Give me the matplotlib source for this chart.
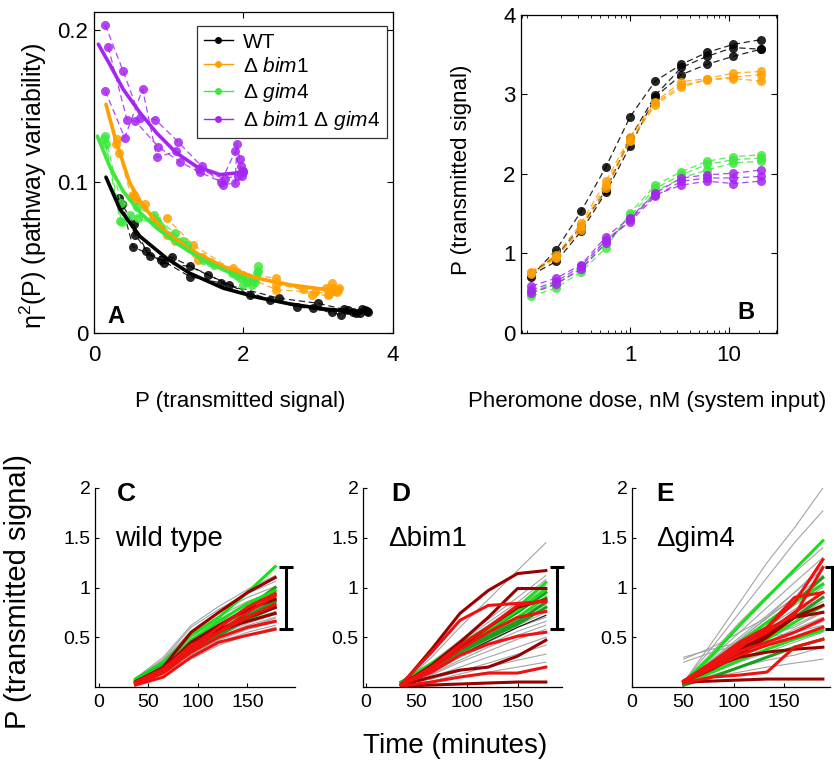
import numpy as np
import matplotlib.pyplot as plt
from matplotlib.lines import Line2D
from matplotlib.ticker import LogLocator, NullFormatter, FixedLocator, FixedFormatter

plt.rcParams['font.family'] = ['Liberation Sans', 'DejaVu Sans']
plt.rcParams['mathtext.fontset'] = 'custom'
plt.rcParams['mathtext.rm'] = 'Liberation Sans'
plt.rcParams['mathtext.it'] = 'Liberation Sans:italic'
plt.rcParams['axes.linewidth'] = 0.9

# ---- strains ----
strain_labels = ['WT', 'Δ $\\mathit{bim1}$', 'Δ $\\mathit{gim4}$',
                 'Δ $\\mathit{bim1}$ Δ $\\mathit{gim4}$']
strain_colors = ['#000000', '#ffa000', '#3ee83e', '#a625f0']

# ---- panel A: variability vs transmitted signal (3 replicates per strain) ----
A_P = [
    [[0.33, 0.53, 0.70, 0.93, 1.28, 1.80, 2.35, 2.93, 3.31, 3.47, 3.67],
     [0.35, 0.55, 0.75, 1.04, 1.53, 2.09, 2.71, 3.18, 3.40, 3.56, 3.62],
     [0.37, 0.52, 0.90, 1.28, 1.70, 2.47, 3.00, 3.34, 3.50, 3.58, 3.65]],
    [[0.31, 0.53, 0.79, 0.97, 1.33, 1.91, 2.44, 2.91, 3.13, 3.20, 3.25],
     [0.34, 0.55, 0.68, 0.97, 1.39, 1.86, 2.44, 2.80, 3.10, 3.18, 3.27],
     [0.30, 0.50, 0.82, 1.08, 1.45, 2.00, 2.44, 2.95, 3.15, 3.22, 3.28]],
    [[0.15, 0.36, 0.57, 0.80, 1.08, 1.46, 1.84, 2.04, 2.15, 2.20],
     [0.14, 0.35, 0.48, 0.84, 1.19, 1.55, 1.90, 1.99, 2.11, 2.18],
     [0.16, 0.37, 0.59, 0.90, 1.25, 1.60, 1.95, 2.05, 2.13, 2.19]],
    [[0.15, 0.39, 0.62, 0.82, 1.13, 1.44, 1.73, 1.89, 1.91, 1.95],
     [0.19, 0.44, 0.55, 0.86, 1.15, 1.42, 1.70, 1.89, 1.98, 2.00],
     [0.15, 0.41, 0.65, 0.84, 1.10, 1.40, 1.75, 1.92, 1.96, 1.99]],
]
A_eta = [
    [[0.089, 0.072, 0.054, 0.046, 0.044, 0.032, 0.022, 0.0163, 0.0119, 0.0141, 0.0141],
     [0.086, 0.065, 0.051, 0.050, 0.0384, 0.0252, 0.0174, 0.0141, 0.0150, 0.0130, 0.0150],
     [0.085, 0.057, 0.0483, 0.0373, 0.033, 0.023, 0.0196, 0.0157, 0.0135, 0.0157, 0.0145]],
    [[0.128, 0.091, 0.076, 0.076, 0.058, 0.040, 0.036, 0.025, 0.025, 0.030, 0.027],
     [0.119, 0.088, 0.085, 0.065, 0.048, 0.043, 0.032, 0.029, 0.030, 0.033, 0.0285],
     [0.125, 0.090, 0.074, 0.0605, 0.050, 0.038, 0.0285, 0.027, 0.026, 0.028, 0.030]],
    [[0.130, 0.086, 0.083, 0.078, 0.066, 0.048, 0.0395, 0.036, 0.034, 0.044],
     [0.128, 0.074, 0.078, 0.074, 0.0605, 0.047, 0.038, 0.032, 0.032, 0.0395],
     [0.125, 0.073, 0.076, 0.070, 0.058, 0.045, 0.036, 0.034, 0.035, 0.041]],
    [[0.2035, 0.173, 0.142, 0.141, 0.126, 0.110, 0.098, 0.099, 0.125, 0.115],
     [0.189, 0.141, 0.140, 0.123, 0.113, 0.106, 0.100, 0.120, 0.1035, 0.107],
     [0.160, 0.129, 0.161, 0.116, 0.120, 0.108, 0.102, 0.104, 0.110, 0.106]],
]
# smooth fitted trends
fit_P = [
    [0.16, 0.35, 0.615, 0.97, 1.28, 1.73, 2.18, 2.62, 3.07, 3.51, 3.65],
    [0.16, 0.30, 0.48, 0.66, 0.93, 1.28, 1.73, 2.18, 2.62, 3.07, 3.25],
    [0.045, 0.21, 0.39, 0.62, 0.84, 1.10, 1.42, 1.73, 2.04, 2.18],
    [0.058, 0.21, 0.39, 0.615, 0.84, 1.10, 1.37, 1.685, 1.91, 2.02],
]
fit_eta = [
    [0.1029, 0.0815, 0.0638, 0.0494, 0.0395, 0.0296, 0.0236, 0.0192, 0.0159, 0.0141, 0.0135],
    [0.151, 0.1256, 0.099, 0.0837, 0.0682, 0.055, 0.0439, 0.0362, 0.0318, 0.0289, 0.0285],
    [0.130, 0.110, 0.0936, 0.0793, 0.0693, 0.0594, 0.0494, 0.0417, 0.0355, 0.034],
    [0.1907, 0.1775, 0.161, 0.1455, 0.132, 0.119, 0.110, 0.1046, 0.1057, 0.108],
]

# ---- panel B: dose response ----
dose = [0.1, 0.18, 0.32, 0.57, 1.0, 1.8, 3.3, 6.0, 11, 21]
B_P = [
    [[0.71, 1.05, 1.53, 2.09, 2.72, 3.17, 3.38, 3.53, 3.63, 3.69],
     [0.75, 0.97, 1.34, 1.80, 2.45, 2.99, 3.34, 3.48, 3.59, 3.57],
     [0.73, 0.90, 1.28, 1.77, 2.35, 2.97, 3.25, 3.38, 3.48, 3.57]],
    [[0.77, 0.98, 1.38, 1.91, 2.47, 2.91, 3.16, 3.20, 3.27, 3.29],
     [0.75, 0.94, 1.34, 1.86, 2.43, 2.89, 3.12, 3.18, 3.22, 3.25],
     [0.74, 0.96, 1.30, 1.82, 2.41, 2.87, 3.09, 3.19, 3.20, 3.17]],
    [[0.46, 0.57, 0.77, 1.07, 1.51, 1.86, 2.03, 2.16, 2.22, 2.24],
     [0.50, 0.61, 0.82, 1.13, 1.47, 1.82, 1.99, 2.12, 2.18, 2.20],
     [0.52, 0.63, 0.80, 1.17, 1.42, 1.78, 1.95, 2.05, 2.14, 2.16]],
    [[0.59, 0.69, 0.86, 1.21, 1.45, 1.76, 1.95, 1.99, 2.01, 2.05],
     [0.54, 0.65, 0.84, 1.17, 1.40, 1.72, 1.91, 1.95, 1.95, 1.97],
     [0.50, 0.62, 0.80, 1.13, 1.43, 1.74, 1.86, 1.91, 1.88, 1.91]],
]

# ---- panels C-E: single-cell time courses ----
C_t = [37, 65, 93, 121, 150, 178]
C_grey = [
    [0.03, 0.15, 0.30, 0.45, 0.55, 0.62], [0.04, 0.16, 0.33, 0.48, 0.59, 0.67],
    [0.05, 0.17, 0.36, 0.50, 0.62, 0.70], [0.04, 0.18, 0.38, 0.52, 0.64, 0.73],
    [0.06, 0.19, 0.40, 0.55, 0.67, 0.76], [0.05, 0.20, 0.42, 0.57, 0.70, 0.79],
    [0.07, 0.21, 0.44, 0.60, 0.73, 0.82], [0.06, 0.22, 0.46, 0.62, 0.76, 0.85],
    [0.08, 0.23, 0.48, 0.65, 0.79, 0.88], [0.07, 0.24, 0.50, 0.68, 0.82, 0.92],
    [0.08, 0.25, 0.53, 0.71, 0.86, 0.96], [0.09, 0.27, 0.56, 0.75, 0.90, 1.01],
    [0.08, 0.28, 0.60, 0.78, 0.94, 1.06], [0.09, 0.30, 0.62, 0.81, 0.98, 1.12],
    [0.05, 0.14, 0.28, 0.42, 0.52, 0.60], [0.06, 0.20, 0.37, 0.53, 0.68, 0.80],
    [0.04, 0.17, 0.35, 0.49, 0.60, 0.69], [0.07, 0.22, 0.45, 0.63, 0.80, 0.95],
    [0.05, 0.18, 0.32, 0.47, 0.58, 0.65], [0.06, 0.21, 0.41, 0.58, 0.72, 0.84],
]
C_green = [
    [0.08, 0.25, 0.52, 0.70, 0.95, 1.21], [0.07, 0.22, 0.40, 0.60, 0.80, 1.00],
    [0.06, 0.20, 0.43, 0.62, 0.76, 0.90], [0.05, 0.18, 0.38, 0.55, 0.72, 0.86],
    [0.07, 0.21, 0.47, 0.66, 0.84, 0.97], [0.06, 0.19, 0.35, 0.52, 0.68, 0.80],
]
C_red = [
    [0.02, 0.10, 0.30, 0.45, 0.52, 0.58], [0.03, 0.14, 0.35, 0.50, 0.60, 0.66],
    [0.04, 0.16, 0.40, 0.60, 0.80, 0.94], [0.05, 0.18, 0.42, 0.55, 0.75, 0.92],
    [0.03, 0.15, 0.38, 0.55, 0.70, 0.83],
]
C_darkred = [
    [0.05, 0.20, 0.55, 0.75, 0.95, 1.10], [0.04, 0.18, 0.45, 0.62, 0.78, 0.88],
    [0.03, 0.17, 0.40, 0.58, 0.70, 0.80], [0.05, 0.19, 0.42, 0.57, 0.66, 0.74],
]

D_t = [35, 65, 93, 121, 150, 178]
D_grey = [
    [0.02, 0.30, 0.60, 0.88, 1.17, 1.45], [0.01, 0.05, 0.10, 0.15, 0.20, 0.25],
    [0.01, 0.06, 0.13, 0.20, 0.27, 0.33], [0.02, 0.10, 0.20, 0.30, 0.40, 0.50],
    [0.02, 0.12, 0.25, 0.36, 0.48, 0.58], [0.02, 0.15, 0.30, 0.43, 0.56, 0.66],
    [0.03, 0.18, 0.34, 0.50, 0.65, 0.80], [0.03, 0.20, 0.37, 0.53, 0.70, 0.86],
    [0.03, 0.21, 0.40, 0.57, 0.75, 0.93], [0.03, 0.22, 0.42, 0.60, 0.80, 1.00],
    [0.03, 0.24, 0.45, 0.65, 0.85, 1.08], [0.03, 0.25, 0.47, 0.68, 0.90, 1.12],
    [0.02, 0.17, 0.33, 0.48, 0.62, 0.75], [0.02, 0.13, 0.27, 0.40, 0.52, 0.62],
    [0.02, 0.08, 0.16, 0.24, 0.33, 0.42], [0.02, 0.14, 0.30, 0.45, 0.60, 0.70],
    [0.03, 0.19, 0.36, 0.52, 0.68, 0.83], [0.03, 0.23, 0.44, 0.62, 0.82, 1.02],
]
D_black = [[0.02, 0.16, 0.32, 0.46, 0.60, 0.72]]
D_green = [
    [0.05, 0.24, 0.43, 0.60, 0.80, 1.05], [0.05, 0.22, 0.40, 0.57, 0.75, 0.95],
    [0.04, 0.21, 0.38, 0.54, 0.70, 0.90], [0.04, 0.20, 0.36, 0.51, 0.66, 0.85],
    [0.05, 0.23, 0.41, 0.58, 0.77, 0.98], [0.04, 0.19, 0.35, 0.49, 0.63, 0.80],
]
D_red = [
    [0.03, 0.35, 0.67, 0.82, 0.84, 0.86], [0.02, 0.20, 0.42, 0.60, 0.82, 0.87],
    [0.02, 0.18, 0.38, 0.55, 0.70, 0.76], [0.02, 0.15, 0.32, 0.43, 0.51, 0.55],
    [0.01, 0.05, 0.10, 0.14, 0.14, 0.20],
]
D_darkred = [
    [0.02, 0.38, 0.74, 0.97, 1.14, 1.17], [0.02, 0.22, 0.45, 0.70, 0.99, 0.99],
    [0.02, 0.10, 0.17, 0.20, 0.31, 0.47], [0.01, 0.02, 0.03, 0.04, 0.05, 0.05],
    [0.02, 0.20, 0.40, 0.60, 0.80, 0.88],
]

E_t = [51, 79, 106, 133, 160, 188]
E_grey = [
    [0.05, 0.45, 0.85, 1.25, 1.60, 2.00], [0.05, 0.40, 0.75, 1.10, 1.45, 1.77],
    [0.05, 0.35, 0.65, 0.92, 1.15, 1.40], [0.28, 0.40, 0.55, 0.70, 0.90, 1.20],
    [0.30, 0.38, 0.45, 0.52, 0.60, 0.75], [0.25, 0.35, 0.43, 0.50, 0.55, 0.62],
    [0.04, 0.30, 0.55, 0.80, 1.05, 1.30], [0.04, 0.28, 0.50, 0.72, 0.95, 1.18],
    [0.04, 0.25, 0.46, 0.66, 0.86, 1.05], [0.04, 0.23, 0.42, 0.60, 0.78, 0.95],
    [0.04, 0.20, 0.38, 0.54, 0.70, 0.86], [0.04, 0.18, 0.34, 0.48, 0.62, 0.76],
    [0.04, 0.16, 0.30, 0.42, 0.54, 0.66], [0.04, 0.14, 0.25, 0.35, 0.45, 0.55],
    [0.04, 0.12, 0.20, 0.27, 0.32, 0.40], [0.04, 0.10, 0.15, 0.20, 0.24, 0.28],
    [0.04, 0.27, 0.48, 0.69, 0.90, 1.12], [0.05, 0.24, 0.44, 0.64, 0.82, 1.00],
    [0.05, 0.21, 0.40, 0.57, 0.74, 0.90], [0.05, 0.19, 0.36, 0.51, 0.66, 0.80],
    [0.05, 0.17, 0.32, 0.45, 0.58, 0.70], [0.05, 0.26, 0.47, 0.70, 0.95, 1.22],
]
E_green = [
    [0.05, 0.32, 0.62, 0.90, 1.18, 1.47], [0.04, 0.22, 0.40, 0.60, 0.85, 1.10],
    [0.03, 0.18, 0.33, 0.48, 0.65, 0.82], [0.05, 0.20, 0.37, 0.52, 0.70, 0.90],
    [0.03, 0.15, 0.27, 0.38, 0.48, 0.57], [0.02, 0.10, 0.20, 0.30, 0.40, 0.48],
    [0.04, 0.25, 0.45, 0.65, 0.85, 1.03],
]
E_red = [
    [0.06, 0.20, 0.40, 0.60, 0.85, 1.28], [0.06, 0.25, 0.45, 0.60, 0.90, 0.95],
    [0.05, 0.20, 0.40, 0.58, 0.72, 1.20], [0.04, 0.10, 0.12, 0.15, 0.40, 0.48],
    [0.06, 0.22, 0.36, 0.45, 0.55, 0.68], [0.05, 0.19, 0.32, 0.42, 0.50, 0.60],
    [0.06, 0.24, 0.42, 0.55, 0.75, 0.95],
]
E_darkred = [
    [0.05, 0.06, 0.07, 0.08, 0.08, 0.08], [0.06, 0.20, 0.30, 0.35, 0.38, 0.40],
    [0.05, 0.18, 0.33, 0.50, 0.70, 0.82], [0.05, 0.22, 0.38, 0.52, 0.70, 0.75],
]

# scale bar drawn next to each set of traces
bar_t = [189, 189, 197]
bar_lo = [0.585, 0.585, 0.585]
bar_hi = [1.207, 1.207, 1.207]

panel_names = ['wild type', 'Δbim1', 'Δgim4']
panel_letters = ['C', 'D', 'E']

W, H = 834, 763
fig = plt.figure(figsize=(W / 100, H / 100), dpi=100)


def add_box(left, top, right, bottom):
    return fig.add_axes([left / W, 1 - bottom / H, (right - left) / W, (bottom - top) / H])


def ftext(x, y, s, **kw):
    fig.text(x / W, 1 - y / H, s, **kw)


dash = (0, (5, 3))

# ---------------- A ----------------
axA = add_box(94, 12, 393, 333)
for k in range(4):
    for P, e in zip(A_P[k], A_eta[k]):
        axA.plot(P, e, linestyle=dash, lw=0.9, color=strain_colors[k],
                 marker='o', ms=6.5, mew=0, alpha=0.85)
for k in range(4):
    axA.plot(fit_P[k], fit_eta[k], color=strain_colors[k], lw=2.6,
             solid_capstyle='round')
axA.set_xlim(0, 4)
axA.set_ylim(0, 0.212)
axA.set_xticks([0, 2, 4])
axA.set_yticks([0, 0.1, 0.2])
axA.set_yticklabels(['0', '0.1', '0.2'])
axA.tick_params(direction='in', top=True, right=True, labelsize=16, length=4)
axA.tick_params(axis='x', pad=9)
axA.tick_params(axis='y', pad=4)
axA.text(0.045, 0.03, 'A', transform=axA.transAxes, fontsize=17, fontweight='bold')

handles = [Line2D([], [], color=c, lw=1.0, marker='o', ms=5, mew=0) for c in strain_colors]
leg = axA.legend(handles, strain_labels, loc='upper right', fontsize=15,
                 bbox_to_anchor=(1.0, 0.975), frameon=True, fancybox=False,
                 handlelength=1.4, handletextpad=0.5, labelspacing=0.25,
                 borderpad=0.3, borderaxespad=0.3)
leg.get_frame().set_edgecolor('black')
leg.get_frame().set_linewidth(0.9)

ftext(240, 401, 'P (transmitted signal)', fontsize=16, ha='center', va='center')
ftext(33, 186, 'η$^2$(P) (pathway variability)', fontsize=18, rotation=90,
      ha='center', va='center')

# ---------------- B ----------------
axB = add_box(521, 15, 777, 333)
for k in range(4):
    for P in B_P[k]:
        axB.plot(dose, P, linestyle=dash, lw=0.9, color=strain_colors[k],
                 marker='o', ms=6.5, mew=0, alpha=0.85)
axB.set_xscale('log')
axB.set_xlim(0.079, 30.5)
axB.set_ylim(0, 4)
axB.set_yticks([0, 1, 2, 3, 4])
axB.xaxis.set_major_locator(FixedLocator([1, 10]))
axB.xaxis.set_major_formatter(FixedFormatter(['1', '10']))
axB.xaxis.set_minor_locator(LogLocator(base=10, subs=np.arange(2, 10)))
axB.xaxis.set_minor_formatter(NullFormatter())
axB.tick_params(which='both', direction='in', top=True, right=True, labelsize=16)
axB.tick_params(which='major', length=4)
axB.tick_params(which='minor', length=2)
axB.tick_params(axis='x', pad=9)
axB.tick_params(axis='y', pad=4)
axB.text(0.845, 0.045, 'B', transform=axB.transAxes, fontsize=17, fontweight='bold')
ftext(647, 401, 'Pheromone dose, nM (system input)', fontsize=16, ha='center', va='center')
ftext(462, 170, 'P (transmitted signal)', fontsize=16, rotation=90, ha='center', va='center')

# ---------------- C, D, E ----------------
boxes = [(95, 488, 295, 687), (363, 488, 562, 687), (632, 488, 830, 687)]
xlims = [(-4, 198), (-3, 194), (0, 195)]
times = [C_t, D_t, E_t]
greys = [C_grey, D_grey, E_grey]
blacks = [[], D_black, []]
greens = [C_green, D_green, E_green]
reds = [C_red, D_red, E_red]
darkreds = [C_darkred, D_darkred, E_darkred]
letter_x = [117, 391, 656]
name_x = [115, 388, 656]

for i in range(3):
    ax = add_box(*boxes[i])
    t = times[i]
    for y in greys[i]:
        ax.plot(t, y, color='#a4a4a4', lw=0.8)
    for y in blacks[i]:
        ax.plot(t, y, color='#202020', lw=0.9)
    for j, y in enumerate(greens[i]):
        ax.plot(t, y, color='#18e018' if j % 2 == 0 else '#1c9c1c', lw=2.2)
    for y in darkreds[i]:
        ax.plot(t, y, color='#990000', lw=2.2)
    for y in reds[i]:
        ax.plot(t, y, color='#f01010', lw=2.2)
    ax.plot([bar_t[i], bar_t[i]], [bar_lo[i], bar_hi[i]], color='black', lw=2.2,
            marker='_', ms=10, mew=2.2, clip_on=False)
    ax.set_xlim(*xlims[i])
    ax.set_ylim(0, 2)
    ax.set_xticks([0, 50, 100, 150])
    ax.set_yticks([0.5, 1, 1.5, 2])
    ax.set_yticklabels(['0.5', '1', '1.5', '2'])
    ax.spines['top'].set_visible(False)
    ax.spines['right'].set_visible(False)
    ax.tick_params(direction='in', labelsize=14, length=3)
    ax.tick_params(axis='x', pad=5)
    ax.tick_params(axis='y', pad=3)
    ftext(letter_x[i], 501, panel_letters[i], fontsize=19, fontweight='bold',
          ha='left', va='baseline')
    ftext(name_x[i], 546, panel_names[i], fontsize=20, ha='left', va='baseline')

ftext(455, 746, 'Time (minutes)', fontsize=20, ha='center', va='center')
ftext(18, 592, 'P (transmitted signal)', fontsize=21, rotation=90, ha='center', va='center')

fig.savefig('out.png', dpi=100)
